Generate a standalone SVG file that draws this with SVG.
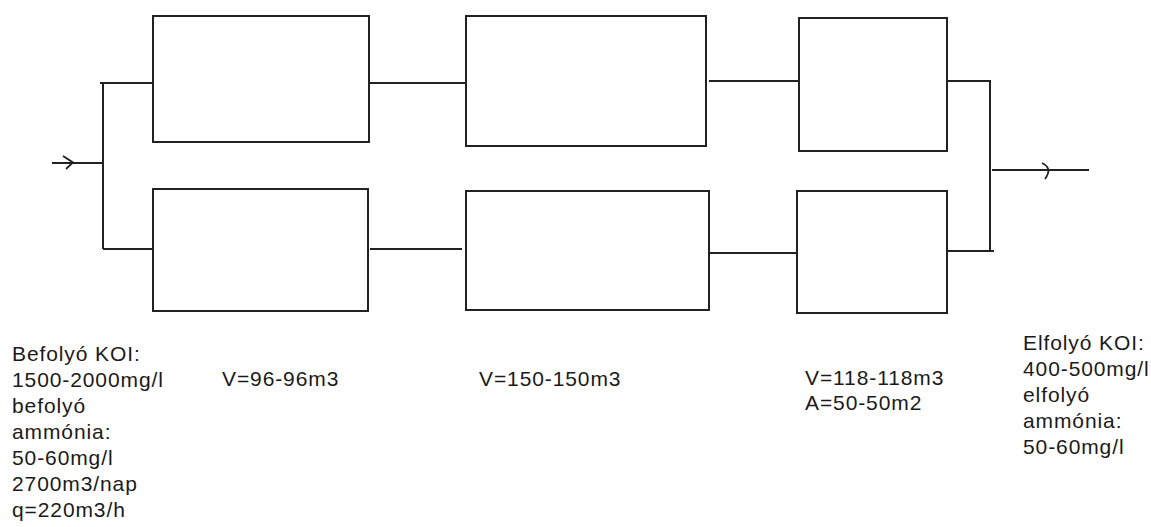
<svg xmlns="http://www.w3.org/2000/svg" width="1151" height="527" viewBox="0 0 1151 527">
<style>
.box{fill:#fff;stroke:#222;stroke-width:2}
.ln{fill:none;stroke:#222;stroke-width:2}
.ah{fill:none;stroke:#222;stroke-width:1.8}
text{font-family:"Liberation Sans",Arial,sans-serif;font-size:21px;fill:#1a1a1a;letter-spacing:0.9px}
</style>
<rect width="1151" height="527" fill="#fff"/>
<g id="connectors">
<path class="ln" d="M52,163 H103"/>
<path class="ah" d="M63,156 L73,162.5 L66,169"/>
<path class="ln" d="M103,83 V249"/>
<path class="ln" d="M100,83 H153"/>
<path class="ln" d="M103,249 H153"/>
<path class="ln" d="M369,83 H466"/>
<path class="ln" d="M370,249 H462"/>
<path class="ln" d="M709,81 H799"/>
<path class="ln" d="M709,253 H797"/>
<path class="ln" d="M947,81 H990 V251"/>
<path class="ln" d="M947,251 H994"/>
<path class="ln" d="M992,170 H1089"/>
<path class="ah" d="M1042,163 Q1053,168 1045,179"/>
</g>
<g id="box1-top"><rect class="box" x="153" y="16" width="216" height="126"/></g>
<g id="box1-bottom"><rect class="box" x="153" y="189" width="215" height="122"/></g>
<g id="box2-top"><rect class="box" x="466" y="16" width="240" height="130"/></g>
<g id="box2-bottom"><rect class="box" x="466" y="191" width="243" height="119"/></g>
<g id="box3-top"><rect class="box" x="799" y="18" width="148" height="133"/></g>
<g id="box3-bottom"><rect class="box" x="797" y="191" width="150" height="122"/></g>
<g id="label-inflow">
<text x="12" y="361">Befolyó KOI:</text>
<text x="12" y="387">1500-2000mg/l</text>
<text x="12" y="413">befolyó</text>
<text x="12" y="439">ammónia:</text>
<text x="12" y="465">50-60mg/l</text>
<text x="12" y="491">2700m3/nap</text>
<text x="12" y="517">q=220m3/h</text>
</g>
<g id="label-v1"><text x="222" y="386">V=96-96m3</text></g>
<g id="label-v2"><text x="479" y="386">V=150-150m3</text></g>
<g id="label-v3">
<text x="805" y="385">V=118-118m3</text>
<text x="805" y="410">A=50-50m2</text>
</g>
<g id="label-outflow">
<text x="1023" y="350">Elfolyó KOI:</text>
<text x="1023" y="376">400-500mg/l</text>
<text x="1023" y="402">elfolyó</text>
<text x="1023" y="428">ammónia:</text>
<text x="1023" y="454">50-60mg/l</text>
</g>
</svg>
